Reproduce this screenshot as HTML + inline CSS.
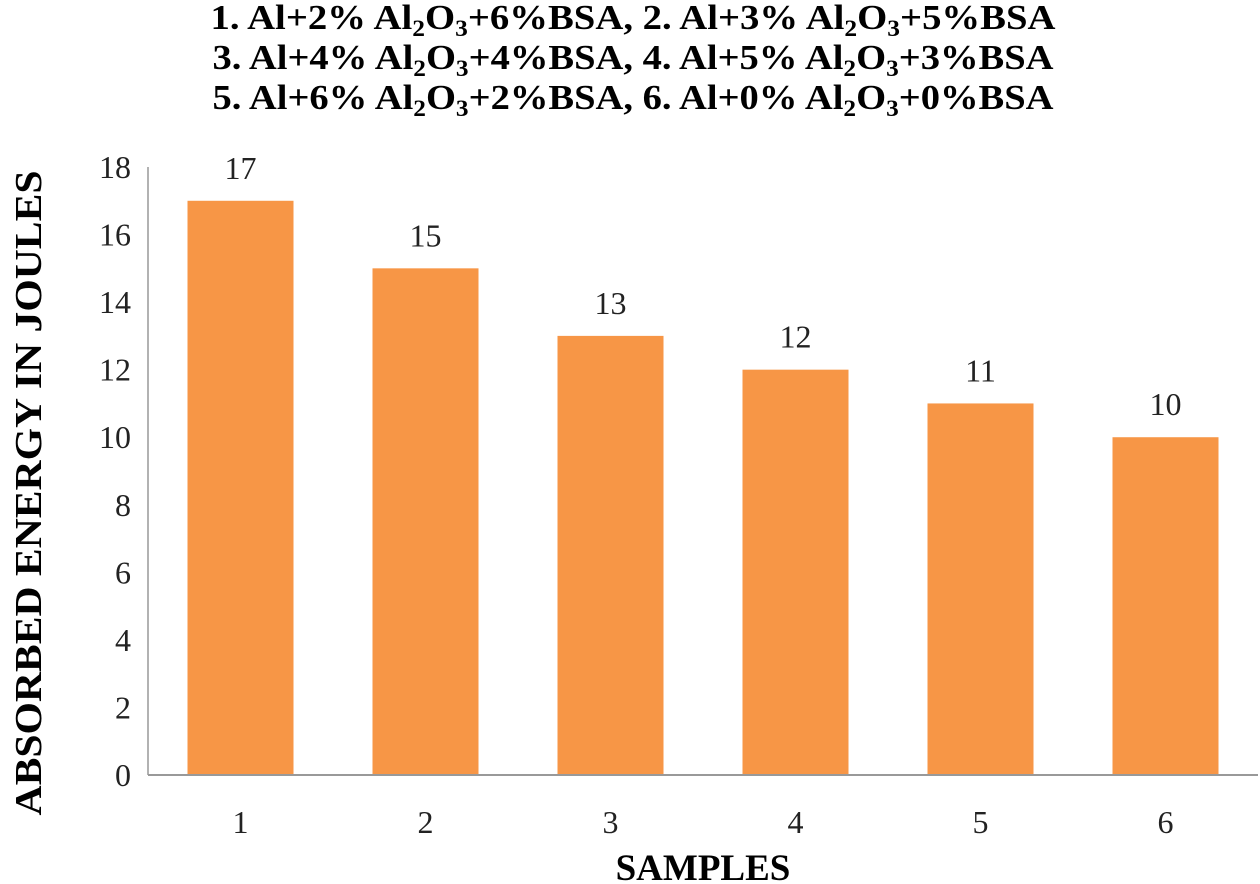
<!DOCTYPE html>
<html><head><meta charset="utf-8"><style>
body{margin:0;background:#fff}
svg{display:block;font-family:"Liberation Serif",serif}
</style></head><body>
<svg id="chart" width="1260" height="884" viewBox="0 0 1260 884">
<g font-weight="bold" font-size="35" text-anchor="middle">
<text x="633" y="29" textLength="845" lengthAdjust="spacingAndGlyphs">1. Al+2% Al<tspan font-size="23" dy="7">2</tspan><tspan dy="-7">O</tspan><tspan font-size="23" dy="7">3</tspan><tspan dy="-7">+6%BSA,  2. Al+3% Al</tspan><tspan font-size="23" dy="7">2</tspan><tspan dy="-7">O</tspan><tspan font-size="23" dy="7">3</tspan><tspan dy="-7">+5%BSA</tspan></text>
<text x="633" y="69" textLength="841" lengthAdjust="spacingAndGlyphs">3. Al+4% Al<tspan font-size="23" dy="7">2</tspan><tspan dy="-7">O</tspan><tspan font-size="23" dy="7">3</tspan><tspan dy="-7">+4%BSA, 4. Al+5% Al</tspan><tspan font-size="23" dy="7">2</tspan><tspan dy="-7">O</tspan><tspan font-size="23" dy="7">3</tspan><tspan dy="-7">+3%BSA</tspan></text>
<text x="633" y="109" textLength="841" lengthAdjust="spacingAndGlyphs">5. Al+6% Al<tspan font-size="23" dy="7">2</tspan><tspan dy="-7">O</tspan><tspan font-size="23" dy="7">3</tspan><tspan dy="-7">+2%BSA, 6. Al+0% Al</tspan><tspan font-size="23" dy="7">2</tspan><tspan dy="-7">O</tspan><tspan font-size="23" dy="7">3</tspan><tspan dy="-7">+0%BSA</tspan></text>
</g>
<text transform="translate(41,493) rotate(-90)" text-anchor="middle" font-weight="bold" font-size="38" textLength="645" lengthAdjust="spacingAndGlyphs">ABSORBED ENERGY IN  JOULES</text>
<text x="703" y="880" text-anchor="middle" font-weight="bold" font-size="37">SAMPLES</text>
<g id="plot"></g>
</svg>
<script>
const categories = ["1","2","3","4","5","6"];
const values = [17,15,13,12,11,10];
const valueLabels = ["17","15","13","12","11","10"];
const yTicks = [0,2,4,6,8,10,12,14,16,18];
const ns="http://www.w3.org/2000/svg";
const plot=document.getElementById('plot');
const X0=148,X1=1258,Y0=775,Y1=167,YMAX=18;
const y=v=>Y0-(v/YMAX)*(Y0-Y1);
const band=(X1-X0)/categories.length;
const xc=i=>X0+band*(i+0.5);
function mk(tag,attrs){const e=document.createElementNS(ns,tag);for(const k in attrs)e.setAttribute(k,attrs[k]);plot.appendChild(e);return e;}
yTicks.forEach(t=>{
  const e=mk('text',{x:131,y:y(t)+11,'text-anchor':'end','font-size':32,fill:'#222'});
  
  
  e.textContent=t;
});
values.forEach((v,i)=>{
  const bw=106;
  const r=mk('rect',{x:xc(i)-bw/2,y:y(v),width:bw,height:Y0-y(v),fill:'#F79646'});
  
  
  const l=mk('text',{x:xc(i),y:y(v)-22,'text-anchor':'middle','font-size':32,fill:'#222'});
  
  
  l.textContent=valueLabels[i];
  const c=mk('text',{x:xc(i),y:Y0+58,'text-anchor':'middle','font-size':32,fill:'#222'});
  
  
  c.textContent=categories[i];
});
const ya=mk('line',{x1:X0,y1:Y1,x2:X0,y2:Y0,stroke:'#999','stroke-width':1.5});


const xa=mk('line',{x1:X0,y1:Y0,x2:X1,y2:Y0,stroke:'#999','stroke-width':2});


</script>
</body></html>
